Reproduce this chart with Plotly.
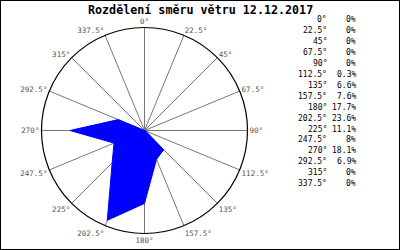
import plotly.graph_objects as go

title = "Rozdělení směru větru 12.12.2017"
directions = [0, 22.5, 45, 67.5, 90, 112.5, 135, 157.5, 180, 202.5, 225, 247.5, 270, 292.5, 315, 337.5]
dir_labels = ["0°", "22.5°", "45°", "67.5°", "90°", "112.5°", "135°", "157.5°",
              "180°", "202.5°", "225°", "247.5°", "270°", "292.5°", "315°", "337.5°"]
percent = [0, 0, 0, 0, 0, 0.3, 6.6, 7.6, 17.7, 23.6, 11.1, 8, 18.1, 6.9, 0, 0]

W, H = 400, 250
cx, cy, R = 144.5, 130.5, 103
mono = "DejaVu Sans Mono"

fig = go.Figure()
fig.add_trace(go.Scatterpolar(
    r=percent + percent[:1], theta=directions + directions[:1],
    mode="lines", fill="toself", fillcolor="#0000ff",
    line=dict(color="#0000ff", width=1), hoverinfo="skip"))

fig.update_layout(
    width=W, height=H, margin=dict(l=0, r=0, t=0, b=0),
    paper_bgcolor="white", showlegend=False,
    font=dict(family=mono, size=8, color="#444"),
    polar=dict(
        domain=dict(x=[(cx - R) / W, (cx + R) / W], y=[(H - cy - R) / H, (H - cy + R) / H]),
        bgcolor="white",
        radialaxis=dict(range=[0, 25], showgrid=False, showticklabels=False, showline=False, ticks=""),
        angularaxis=dict(rotation=90, direction="clockwise", tickmode="array",
                         tickvals=directions, ticktext=dir_labels, ticks="",
                         showline=True, linecolor="black", linewidth=1.2,
                         gridcolor="#777", gridwidth=1,
                         tickfont=dict(family=mono, size=7.5, color="#555")),
    ),
)

fig.add_annotation(text="<b>" + title + "</b>", x=200 / W, y=1 - 9.5 / H, xref="paper", yref="paper",
                   showarrow=False, xanchor="center", yanchor="middle",
                   font=dict(family=mono, size=11.7, color="black"))

y0, dy = 20, 10.9
for i, (lab, p) in enumerate(zip(dir_labels, percent)):
    yy = 1 - (y0 + i * dy) / H
    fig.add_annotation(text=lab, x=329 / W, y=yy, xref="paper", yref="paper", showarrow=False,
                       xanchor="right", yanchor="middle", font=dict(family=mono, size=8, color="black"))
    fig.add_annotation(text=f"{p:g}%", x=358 / W, y=yy, xref="paper", yref="paper", showarrow=False,
                       xanchor="right", yanchor="middle", font=dict(family=mono, size=8, color="black"))

fig.add_shape(type="rect", xref="paper", yref="paper", x0=0, y0=0, x1=1, y1=1,
              line=dict(color="black", width=2))

fig.write_html("out.html")
